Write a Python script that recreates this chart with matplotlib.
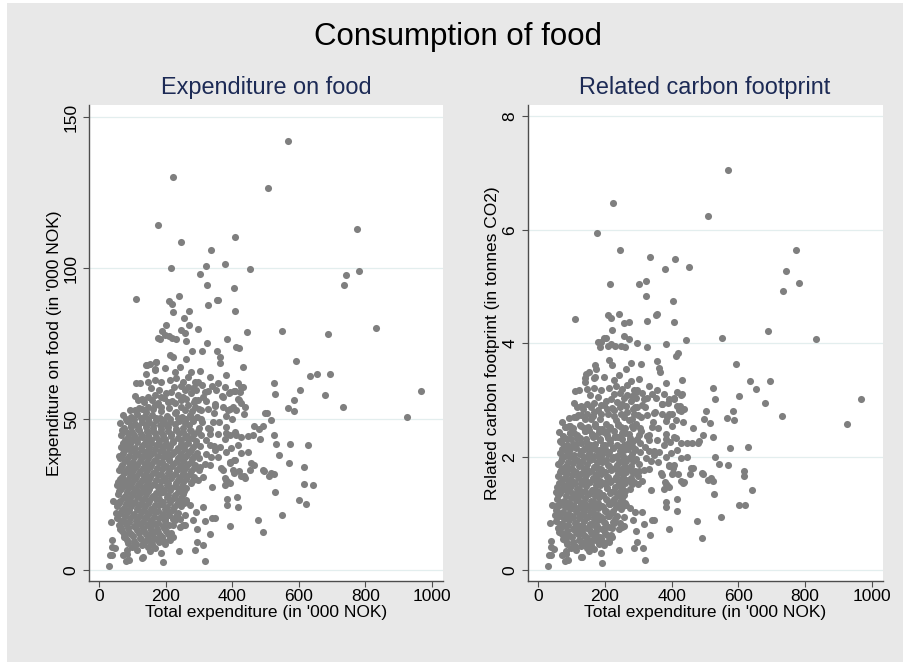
import matplotlib
matplotlib.use("Agg")
import matplotlib.pyplot as plt
from matplotlib.patches import Rectangle
import numpy as np

plt.rcParams['font.family'] = ['Liberation Sans', 'DejaVu Sans']

# ---------------- data ----------------
# upper points (households with high food spending)
upper_total = [569, 223, 509, 177, 774, 409, 246, 335, 215, 322,
               379, 453, 302, 324, 404, 742, 782, 735, 110, 241,
               210, 219, 357, 353, 326, 222, 271, 408, 256, 202,
               271, 188, 247, 257, 296, 444, 551, 688, 833, 178,
               184, 197, 209, 218, 230, 261, 325, 383, 412, 420,
               279, 309, 355]
upper_food = [142.2, 130.3, 126.5, 114.3, 112.8, 110.2, 108.7, 106.1, 100.1, 100.8,
              101.3, 99.6, 98.1, 94.5, 93.3, 97.7, 99.1, 94.4, 89.8, 90.7,
              89.0, 88.0, 89.6, 89.4, 87.7, 85.6, 85.7, 85.9, 83.5, 81.0,
              81.3, 79.3, 79.4, 78.4, 79.7, 79.0, 79.3, 78.1, 80.3, 76.9,
              76.4, 78.0, 77.6, 76.9, 76.4, 75.9, 75.2, 76.4, 74.0, 73.5,
              72.5, 72.7, 72.5]
upper_carbon = [7.06, 6.47, 6.25, 5.95, 5.65, 5.49, 5.65, 5.52, 5.04, 5.10,
                5.31, 5.35, 5.04, 4.84, 4.75, 5.27, 5.07, 4.92, 4.43, 4.52,
                4.50, 4.45, 4.52, 4.50, 4.40, 4.23, 4.37, 4.38, 4.35, 4.10,
                4.07, 4.03, 3.95, 4.13, 4.01, 4.06, 4.09, 4.21, 4.08, 4.03,
                3.93, 4.10, 3.95, 3.98, 3.95, 3.94, 3.93, 3.98, 3.78, 3.82,
                3.65, 3.63, 3.68]

# scattered points around the main cloud
outer_total = [969, 927, 732, 695, 654, 635, 680, 603, 592, 585,
               586, 567, 525, 529, 504, 516, 525, 531, 541, 493,
               479, 464, 482, 462, 447, 575, 629, 570, 617, 616,
               642, 528, 602, 621, 549, 476, 491, 492, 495, 510,
               525, 464, 454, 447, 435, 437, 420, 415, 416, 404,
               392, 404, 392, 384, 384, 387, 379, 372, 339, 340,
               347, 334, 319, 313, 295, 288, 294, 317, 312, 290,
               283, 241, 192, 152, 127, 80, 28, 32, 39, 37,
               37, 47, 40, 35, 60, 54, 69, 91, 110, 140,
               170, 169, 212, 222, 262, 362, 364, 431, 417, 427,
               424, 406, 390, 370, 421, 437, 435, 412, 392, 400,
               382, 382, 356, 332, 317, 292, 289, 349, 345, 360,
               332, 377, 412, 416, 397, 362, 337, 322, 358, 302,
               332, 312, 298, 262, 274, 257, 242, 222, 212, 197,
               187, 142, 130, 114, 97, 82, 88, 74, 62, 50,
               54, 74, 82, 82]
outer_food = [59.2, 50.8, 54.1, 65.1, 65.1, 64.2, 58.1, 59.8, 69.2, 56.3,
              52.8, 53.6, 62.0, 58.2, 52.0, 49.6, 44.6, 41.6, 38.0, 47.6,
              46.6, 47.8, 43.4, 44.7, 44.4, 41.9, 41.5, 35.5, 34.3, 28.4,
              28.1, 25.9, 23.1, 22.0, 18.1, 16.6, 12.6, 33.3, 32.8, 31.1,
              31.8, 34.9, 33.3, 39.1, 31.2, 30.4, 32.8, 24.1, 21.0, 36.4,
              35.5, 32.0, 14.6, 23.7, 21.6, 29.2, 30.4, 33.3, 27.5, 17.3,
              17.3, 12.0, 3.1, 8.4, 9.2, 6.6, 13.6, 16.2, 20.8, 19.3,
              16.6, 6.3, 2.8, 6.3, 3.9, 3.1, 1.5, 5.0, 5.0, 9.9,
              7.7, 7.2, 23.0, 16.0, 37.7, 28.1, 46.4, 49.9, 62.0, 68.0,
              69.0, 66.6, 71.2, 70.6, 69.8, 70.4, 68.7, 67.1, 62.0, 60.7,
              58.9, 59.3, 58.8, 57.8, 56.3, 54.1, 51.7, 53.0, 53.5, 49.9,
              51.0, 47.5, 62.0, 64.0, 59.1, 61.8, 56.3, 55.0, 51.9, 49.1,
              46.6, 43.3, 44.7, 41.5, 40.3, 40.8, 37.5, 38.6, 37.5, 34.2,
              34.8, 30.9, 29.8, 22.6, 21.5, 15.1, 14.3, 11.0, 9.9, 8.8,
              5.7, 9.9, 4.4, 6.6, 7.7, 5.5, 3.3, 11.0, 13.5, 19.0,
              22.1, 28.7, 33.3, 41.9]
outer_carbon = [3.01, 2.57, 2.72, 3.33, 3.19, 3.34, 2.95, 3.07, 3.64, 2.81,
                2.64, 2.69, 3.21, 3.02, 2.80, 2.60, 2.35, 1.99, 1.88, 2.38,
                2.25, 2.50, 2.28, 2.25, 2.24, 2.15, 2.17, 1.86, 1.75, 1.66,
                1.42, 1.35, 1.15, 1.15, 0.94, 0.86, 0.56, 1.72, 1.70, 1.59,
                1.58, 1.81, 1.69, 2.00, 1.54, 1.55, 1.70, 1.25, 1.05, 1.80,
                1.85, 1.72, 0.73, 1.20, 1.12, 1.50, 1.55, 1.68, 1.42, 0.89,
                0.89, 0.62, 0.18, 0.39, 0.49, 0.40, 0.70, 0.81, 1.03, 1.03,
                0.88, 0.36, 0.13, 0.34, 0.24, 0.16, 0.07, 0.26, 0.27, 0.52,
                0.41, 0.38, 1.15, 0.84, 1.88, 1.37, 2.26, 2.54, 3.16, 3.38,
                3.61, 3.40, 3.70, 3.62, 3.55, 3.57, 3.50, 3.36, 3.15, 3.08,
                2.90, 3.02, 2.95, 2.93, 2.83, 2.85, 2.62, 2.65, 2.75, 2.55,
                2.63, 2.40, 3.18, 3.25, 3.02, 3.15, 2.88, 2.78, 2.62, 2.50,
                2.38, 2.20, 2.33, 2.12, 2.06, 2.08, 1.93, 1.98, 1.90, 1.75,
                1.78, 1.58, 1.52, 1.15, 1.10, 0.78, 0.72, 0.58, 0.50, 0.45,
                0.30, 0.50, 0.24, 0.35, 0.40, 0.28, 0.18, 0.55, 0.68, 0.98,
                1.13, 1.45, 1.70, 2.12]

# more scattered points near the cloud's edges
edge_total = [332, 347, 382, 392, 407, 427, 402, 427, 367, 382,
              392, 377, 457, 517, 332, 382, 407, 427, 167, 147,
              127, 82, 72, 217, 222, 252, 257, 227, 212]
edge_food = [41.4, 39.8, 39.2, 35.9, 36.5, 38.7, 33.2, 31.0, 33.7, 29.8,
             28.7, 28.2, 35.4, 32.0, 45.1, 45.3, 45.8, 44.2, 7.2, 7.8,
             8.3, 6.7, 5.0, 12.2, 14.9, 14.9, 18.3, 16.6, 10.5]
edge_carbon = [2.11, 2.03, 2.00, 1.83, 1.86, 1.97, 1.69, 1.58, 1.72, 1.52,
               1.47, 1.44, 1.80, 1.63, 2.30, 2.31, 2.34, 2.25, 0.37, 0.40,
               0.42, 0.34, 0.26, 0.62, 0.75, 0.76, 0.93, 0.84, 0.53]

# upper part of the dense cloud
cloudtop_total = [142, 152, 172, 167, 197, 227, 242, 277, 267, 302,
                  287, 382, 432, 139, 122, 147, 167, 187, 212, 232,
                  252, 267, 297, 107, 117, 127, 147, 167, 187, 202,
                  217, 237, 252, 257, 277, 292, 297, 312, 327, 352,
                  372, 377, 392, 407, 417, 427, 402, 387, 372, 347,
                  327, 307, 287, 267, 247, 227, 207, 187, 167, 147,
                  127, 107, 497,
                  92, 118, 140, 163, 185, 210, 232, 258, 280, 300,
                  135, 158, 178, 196, 220, 245, 262, 285, 320,
                  155, 180, 226, 246, 282, 310, 340]
cloudtop_food = [67.9, 68.4, 69.0, 66.2, 66.8, 65.7, 67.3, 65.7, 64.0, 65.9,
                 62.4, 64.6, 60.7, 65.1, 62.1, 62.4, 62.9, 62.4, 62.9, 63.5,
                 62.4, 60.7, 62.4, 57.6, 56.3, 56.8, 57.4, 57.9, 57.4, 58.5,
                 59.0, 57.9, 57.4, 59.6, 58.5, 59.6, 56.3, 57.4, 59.4, 59.6,
                 57.4, 60.7, 59.0, 59.4, 56.8, 55.2, 54.1, 53.0, 53.9, 54.3,
                 53.5, 53.0, 54.1, 54.6, 54.1, 55.2, 55.7, 54.1, 54.6, 54.1,
                 53.5, 53.0, 52.1,
                 52.9, 53.6, 52.5, 53.3, 52.7, 53.8, 52.4, 53.1, 52.6, 53.4,
                 55.8, 56.4, 55.5, 56.9, 55.9, 56.2, 56.7, 55.6, 56.1,
                 60.3, 59.8, 60.6, 61.0, 60.2, 61.3, 60.8]
cloudtop_carbon = [3.45, 3.50, 3.55, 3.38, 3.40, 3.35, 3.44, 3.33, 3.26, 3.37,
                   3.18, 3.30, 3.10, 3.32, 3.17, 3.19, 3.21, 3.18, 3.22, 3.24,
                   3.19, 3.09, 3.18, 2.94, 2.87, 2.90, 2.93, 2.95, 2.92, 2.98,
                   3.01, 2.96, 2.93, 3.04, 2.99, 3.03, 2.87, 2.92, 3.03, 3.04,
                   2.93, 3.10, 3.01, 3.03, 2.90, 2.81, 2.76, 2.70, 2.75, 2.77,
                   2.73, 2.70, 2.76, 2.78, 2.76, 2.82, 2.84, 2.76, 2.79, 2.76,
                   2.73, 2.70, 2.66,
                   2.68, 2.74, 2.66, 2.72, 2.67, 2.76, 2.65, 2.70, 2.66, 2.73,
                   2.85, 2.88, 2.83, 2.91, 2.86, 2.87, 2.90, 2.84, 2.87,
                   3.08, 3.05, 3.10, 3.12, 3.07, 3.13, 3.11]

# dense core of the cloud (one line per band)
core_total = [
    70, 96, 113, 137, 158, 182, 203, 227, 248, 272, 293,
    62, 84, 106, 127, 151, 171, 196, 214, 239, 259, 283, 309, 341,
    73, 94, 117, 141, 161, 186, 207, 231, 251, 274, 301, 326,
    66, 86, 104, 126, 147, 169, 193, 216, 239, 263, 284, 306, 356, 394,
    76, 96, 114, 139, 157, 181, 199, 223, 246, 267, 291, 321,
    64, 89, 107, 129, 151, 171, 191, 213, 236, 257, 281, 304, 346,
    71, 94, 116, 137, 161, 183, 203, 224, 247, 271, 293,
    63, 83, 104, 126, 147, 169, 191, 211, 236, 257, 279, 301,
    69, 93, 114, 136, 157, 179, 201, 221, 246, 267, 289, 317,
    59, 81, 101, 123, 144, 167, 189, 209, 233, 254, 277, 299,
    67, 91, 111, 133, 154, 177, 199, 219, 243, 264, 286,
    57, 79, 99, 121, 143, 164, 186, 207, 231, 251, 276,
    65, 87, 111, 131, 151, 176, 194, 217, 241, 261,
    56, 77, 97, 119, 139, 163, 182, 206, 227, 251,
    63, 86, 107, 127, 151, 171, 193, 214, 239, 261,
    54, 75, 94, 117, 137, 161, 179, 203, 224, 247,
    61, 83, 105, 125, 149, 169, 191, 211, 236,
    53, 71, 93, 113, 137, 157, 179, 199, 223, 244,
    59, 81, 103, 123, 147, 167, 191, 211,
    69, 89, 113, 133, 157, 177, 201,
    77, 101, 121, 145, 165, 189,
    87, 111, 133, 159, 181,
    95, 117, 139, 161, 183, 205, 227, 271,
    85, 106, 128, 149, 171, 193, 215, 237, 258, 280,
    80, 102, 124, 147, 168, 189, 210, 233, 255, 277,
    78, 101, 122, 144, 166, 188, 209, 231, 253, 276,
    75, 98, 120, 141, 163, 185, 207, 229, 251, 272,
    72, 95, 117, 139, 160, 183, 205, 227, 249,
    70, 92, 114, 136, 158, 180, 203, 224, 246,
    68, 90, 112, 134, 156, 178, 199, 221,
    66, 88, 110, 132, 154, 176, 198,
]
core_food = [
    51.3, 50.6, 51.8, 50.9, 51.5, 50.4, 51.1, 51.9, 50.7, 51.4, 50.8,
    48.8, 49.4, 48.5, 49.2, 48.9, 49.6, 48.7, 49.1, 49.5, 48.6, 49.3, 48.9, 49.2,
    46.9, 47.3, 46.6, 47.4, 47.0, 46.7, 47.5, 46.8, 47.2, 46.5, 47.1, 46.9,
    44.8, 45.3, 44.6, 45.2, 44.9, 45.5, 44.7, 45.1, 45.4, 44.5, 45.0, 44.8, 45.2, 44.9,
    43.2, 42.7, 43.4, 42.9, 43.1, 42.6, 43.3, 42.8, 43.0, 43.5, 42.7, 43.1,
    40.9, 41.3, 40.6, 41.2, 40.8, 41.4, 40.7, 41.1, 40.5, 41.3, 40.9, 41.0, 41.2,
    38.8, 39.3, 38.6, 39.1, 38.9, 39.4, 38.7, 39.2, 38.5, 39.0, 38.8,
    37.1, 36.7, 37.3, 36.9, 37.2, 36.6, 37.4, 36.8, 37.0, 37.3, 36.7, 37.1,
    34.9, 35.3, 34.7, 35.2, 34.8, 35.4, 34.6, 35.1, 34.9, 35.3, 34.8, 35.0,
    33.1, 32.7, 33.3, 32.8, 33.2, 32.6, 33.4, 32.9, 33.0, 33.3, 32.7, 33.1,
    30.9, 31.3, 30.7, 31.2, 30.8, 31.4, 30.6, 31.1, 30.9, 31.3, 30.8,
    29.1, 28.7, 29.3, 28.8, 29.2, 28.6, 29.4, 28.9, 29.0, 29.3, 28.7,
    26.9, 27.3, 26.7, 27.2, 26.8, 27.4, 26.6, 27.1, 26.9, 27.3,
    25.1, 24.7, 25.3, 24.8, 25.2, 24.6, 25.4, 24.9, 25.0, 25.3,
    22.9, 23.3, 22.7, 23.2, 22.8, 23.4, 22.6, 23.1, 22.9, 23.3,
    21.1, 20.7, 21.3, 20.8, 21.2, 20.6, 21.4, 20.9, 21.0, 21.3,
    18.9, 19.3, 18.7, 19.2, 18.8, 19.4, 18.6, 19.1, 18.9,
    17.1, 16.7, 17.3, 16.8, 17.2, 16.6, 17.4, 16.9, 17.0, 16.8,
    14.9, 15.3, 14.7, 15.2, 14.8, 15.4, 14.6, 15.1,
    13.1, 12.7, 13.3, 12.8, 13.2, 12.6, 13.0,
    10.9, 11.3, 10.7, 11.2, 10.8, 11.1,
    9.1, 8.7, 9.3, 8.8, 9.2,
    48.0, 47.8, 48.2, 47.9, 48.1, 47.7, 48.3, 47.9,
    44.0, 43.8, 44.2, 43.9, 44.1, 43.7, 44.3, 43.9, 44.0, 43.8,
    40.0, 39.8, 40.2, 39.9, 40.1, 39.7, 40.3, 39.9, 40.0, 39.8,
    36.0, 35.8, 36.2, 35.9, 36.1, 35.7, 36.3, 35.9, 36.0, 35.8,
    32.0, 31.8, 32.2, 31.9, 32.1, 31.7, 32.3, 31.9, 32.0, 31.8,
    28.0, 27.8, 28.2, 27.9, 28.1, 27.7, 28.3, 27.9, 28.0,
    24.0, 23.8, 24.2, 23.9, 24.1, 23.7, 24.3, 23.9, 24.0,
    20.0, 19.8, 20.2, 19.9, 20.1, 19.7, 20.3, 19.9,
    16.0, 15.8, 16.2, 15.9, 16.1, 15.7, 16.3,
]
core_carbon = [
    2.62, 2.55, 2.70, 2.51, 2.66, 2.49, 2.58, 2.71, 2.53, 2.64, 2.57,
    2.44, 2.52, 2.41, 2.55, 2.47, 2.58, 2.43, 2.50, 2.56, 2.42, 2.51, 2.46, 2.53,
    2.36, 2.41, 2.33, 2.45, 2.38, 2.31, 2.46, 2.34, 2.42, 2.30, 2.39, 2.37,
    2.27, 2.31, 2.22, 2.33, 2.25, 2.36, 2.21, 2.29, 2.34, 2.20, 2.28, 2.24, 2.30, 2.26,
    2.19, 2.14, 2.22, 2.16, 2.20, 2.12, 2.21, 2.15, 2.18, 2.23, 2.13, 2.17,
    2.07, 2.11, 2.03, 2.10, 2.06, 2.13, 2.04, 2.09, 2.02, 2.12, 2.05, 2.08, 2.10,
    1.97, 2.01, 1.94, 1.99, 1.96, 2.02, 1.95, 2.00, 1.93, 1.98, 1.96,
    1.87, 1.83, 1.89, 1.85, 1.88, 1.82, 1.90, 1.84, 1.86, 1.89, 1.83, 1.87,
    1.76, 1.80, 1.74, 1.79, 1.75, 1.81, 1.73, 1.78, 1.76, 1.80, 1.75, 1.77,
    1.66, 1.62, 1.68, 1.63, 1.67, 1.61, 1.69, 1.64, 1.65, 1.68, 1.62, 1.66,
    1.56, 1.59, 1.54, 1.58, 1.55, 1.60, 1.53, 1.57, 1.56, 1.59, 1.55,
    1.47, 1.43, 1.49, 1.44, 1.48, 1.42, 1.50, 1.45, 1.46, 1.49, 1.43,
    1.36, 1.39, 1.34, 1.38, 1.35, 1.40, 1.33, 1.37, 1.36, 1.39,
    1.26, 1.22, 1.28, 1.23, 1.27, 1.21, 1.29, 1.24, 1.25, 1.28,
    1.15, 1.18, 1.13, 1.17, 1.14, 1.19, 1.12, 1.16, 1.15, 1.18,
    1.06, 1.02, 1.08, 1.03, 1.07, 1.01, 1.09, 1.04, 1.05, 1.08,
    0.95, 0.98, 0.93, 0.97, 0.94, 0.99, 0.92, 0.96, 0.95,
    0.86, 0.82, 0.88, 0.83, 0.87, 0.81, 0.89, 0.84, 0.85, 0.83,
    0.75, 0.78, 0.73, 0.77, 0.74, 0.79, 0.72, 0.76,
    0.66, 0.62, 0.68, 0.63, 0.67, 0.61, 0.65,
    0.55, 0.58, 0.53, 0.57, 0.54, 0.56,
    0.46, 0.43, 0.48, 0.44, 0.47,
    2.42, 2.39, 2.45, 2.40, 2.43, 2.38, 2.46, 2.40,
    2.21, 2.19, 2.24, 2.20, 2.22, 2.18, 2.25, 2.20, 2.21, 2.19,
    2.01, 1.99, 2.04, 2.00, 2.02, 1.98, 2.05, 2.00, 2.01, 1.99,
    1.81, 1.79, 1.84, 1.80, 1.82, 1.78, 1.85, 1.80, 1.81, 1.79,
    1.61, 1.59, 1.64, 1.60, 1.62, 1.58, 1.65, 1.60, 1.61, 1.59,
    1.41, 1.39, 1.44, 1.40, 1.42, 1.38, 1.45, 1.40, 1.41,
    1.21, 1.19, 1.24, 1.20, 1.22, 1.18, 1.25, 1.20, 1.21,
    1.01, 0.99, 1.04, 1.00, 1.02, 0.98, 1.05, 1.00,
    0.81, 0.79, 0.84, 0.80, 0.82, 0.78, 0.85,
]

# further households filling the densest part of the cloud
fill_total = [
    80, 104, 126, 148, 170, 192, 214, 238, 260, 282, 305,
    76, 97, 120, 142, 163, 186, 208, 230, 252, 275, 296,
    70, 92, 113, 135, 157, 179, 201, 223, 246, 268, 290,
    67, 88, 110, 132, 154, 176, 198, 220, 242, 264, 285,
    64, 86, 108, 130, 152, 174, 196, 218, 240, 262, 284,
    62, 84, 106, 128, 150, 172, 194, 216, 238, 260, 281,
    60, 82, 104, 126, 148, 170, 192, 214, 236, 256,
    58, 80, 102, 124, 146, 168, 190, 212, 234, 254,
    56, 78, 100, 122, 144, 166, 188, 210, 231,
    64, 86, 108, 130, 152, 174, 196,
    74, 96, 118, 140, 162, 184, 206,
    82, 104, 126, 150, 172, 194,
]
fill_food = [
    50.2, 49.9, 50.4, 50.0, 50.3, 49.8, 50.1, 50.5, 49.9, 50.2, 50.0,
    46.1, 45.8, 46.3, 45.9, 46.2, 45.7, 46.0, 46.4, 45.8, 46.1, 45.9,
    42.1, 41.8, 42.3, 41.9, 42.2, 41.7, 42.0, 42.4, 41.8, 42.1, 41.9,
    38.1, 37.8, 38.3, 37.9, 38.2, 37.7, 38.0, 38.4, 37.8, 38.1, 37.9,
    34.1, 33.8, 34.3, 33.9, 34.2, 33.7, 34.0, 34.4, 33.8, 34.1, 33.9,
    30.1, 29.8, 30.3, 29.9, 30.2, 29.7, 30.0, 30.4, 29.8, 30.1, 29.9,
    26.1, 25.8, 26.3, 25.9, 26.2, 25.7, 26.0, 26.4, 25.8, 26.1,
    22.1, 21.8, 22.3, 21.9, 22.2, 21.7, 22.0, 22.4, 21.8, 22.1,
    18.1, 17.8, 18.3, 17.9, 18.2, 17.7, 18.0, 18.4, 17.8,
    14.1, 13.8, 14.3, 13.9, 14.2, 13.7, 14.0,
    12.1, 11.8, 12.3, 11.9, 12.2, 11.7, 12.0,
    10.1, 9.8, 10.3, 9.9, 10.2, 9.7,
]
fill_carbon = [
    2.53, 2.50, 2.56, 2.52, 2.55, 2.49, 2.53, 2.57, 2.50, 2.54, 2.51,
    2.33, 2.31, 2.35, 2.32, 2.34, 2.30, 2.33, 2.36, 2.31, 2.33, 2.32,
    2.13, 2.11, 2.15, 2.12, 2.14, 2.10, 2.13, 2.16, 2.11, 2.13, 2.12,
    1.93, 1.91, 1.95, 1.92, 1.94, 1.90, 1.93, 1.96, 1.91, 1.93, 1.92,
    1.73, 1.71, 1.75, 1.72, 1.74, 1.70, 1.73, 1.76, 1.71, 1.73, 1.72,
    1.53, 1.51, 1.55, 1.52, 1.54, 1.50, 1.53, 1.56, 1.51, 1.53, 1.52,
    1.33, 1.31, 1.35, 1.32, 1.34, 1.30, 1.33, 1.36, 1.31, 1.33,
    1.13, 1.11, 1.15, 1.12, 1.14, 1.10, 1.13, 1.16, 1.11, 1.13,
    0.93, 0.91, 0.95, 0.92, 0.94, 0.90, 0.93, 0.96, 0.91,
    0.72, 0.70, 0.74, 0.71, 0.73, 0.69, 0.72,
    0.62, 0.60, 0.64, 0.61, 0.63, 0.59, 0.62,
    0.52, 0.50, 0.54, 0.51, 0.53, 0.49,
]

x_ticks = [0, 200, 400, 600, 800, 1000]
food_ticks = [0, 50, 100, 150]
carbon_ticks = [0, 2, 4, 6, 8]

main_title = "Consumption of food"
left_title = "Expenditure on food"
right_title = "Related carbon footprint"
x_label = "Total expenditure (in '000 NOK)"
left_ylabel = "Expenditure on food (in '000 NOK)"
right_ylabel = "Related carbon footprint (in tonnes CO2)"

# ---------------- assemble ----------------
total = np.array(upper_total + outer_total + edge_total + cloudtop_total
                 + core_total + fill_total, float)
food = np.array(upper_food + outer_food + edge_food + cloudtop_food
                + core_food + fill_food, float)
carbon = np.array(upper_carbon + outer_carbon + edge_carbon + cloudtop_carbon
                  + core_carbon + fill_carbon, float)

# ---------------- figure ----------------
W, H = 905, 662
fig = plt.figure(figsize=(W / 100, H / 100), dpi=100)
fig.patch.set_facecolor('white')
fig.add_artist(Rectangle((7 / W, 0), 896 / W, 659 / H, transform=fig.transFigure,
                         facecolor='#e8e8e8', edgecolor='none', zorder=0))

ax1 = fig.add_axes([89 / W, 81 / H, 354 / W, 476 / H])
ax2 = fig.add_axes([527.7 / W, 81 / H, 355 / W, 476 / H])

marker_color = '#7f7f7f'
axis_color = '#4d4d4d'
grid_color = '#e3eeee'
title_color = '#1c2a55'
fs = 12.5


def style(ax, yticks, ylim, ylabel, yvals):
    ax.set_facecolor('white')
    ax.scatter(total, yvals, s=26, color=marker_color, linewidths=0, zorder=3)
    ax.set_xlim(-31, 1034)
    ax.set_ylim(*ylim)
    ax.set_xticks(x_ticks)
    ax.set_yticks(yticks)
    ax.grid(axis='y', color=grid_color, linewidth=0.9, zorder=0)
    ax.grid(axis='x', visible=False)
    for s in ['top', 'right']:
        ax.spines[s].set_visible(False)
    for s in ['left', 'bottom']:
        ax.spines[s].set_color(axis_color)
        ax.spines[s].set_linewidth(1.0)
    ax.tick_params(axis='both', direction='out', length=4.5, width=0.8,
                   color=axis_color, labelsize=fs, labelcolor='black')
    ax.tick_params(axis='x', pad=1.5)
    ax.tick_params(axis='y', pad=2.8)
    ax.set_yticklabels([str(t) for t in yticks], rotation=90, va='center')
    ax.set_xticklabels([str(t) for t in x_ticks])
    ax.set_xlabel(x_label, fontsize=fs, labelpad=0.5)
    ax.set_ylabel(ylabel, fontsize=fs, labelpad=1.5)
    ax.set_axisbelow(True)


style(ax1, food_ticks, (-3.6, 154.0), left_ylabel, food)
style(ax2, carbon_ticks, (-0.19, 8.2), right_ylabel, carbon)
ax2.set_xlim(-32, 1033)

fig.text(458 / W, 1 - 45 / H, main_title, ha='center', va='baseline',
         fontsize=22.5, color='black')
fig.text(266 / W, 1 - 94.3 / H, left_title, ha='center', va='baseline',
         fontsize=16.9, color=title_color)
fig.text(705 / W, 1 - 94.3 / H, right_title, ha='center', va='baseline',
         fontsize=16.9, color=title_color)

fig.savefig('out.png', dpi=100)
